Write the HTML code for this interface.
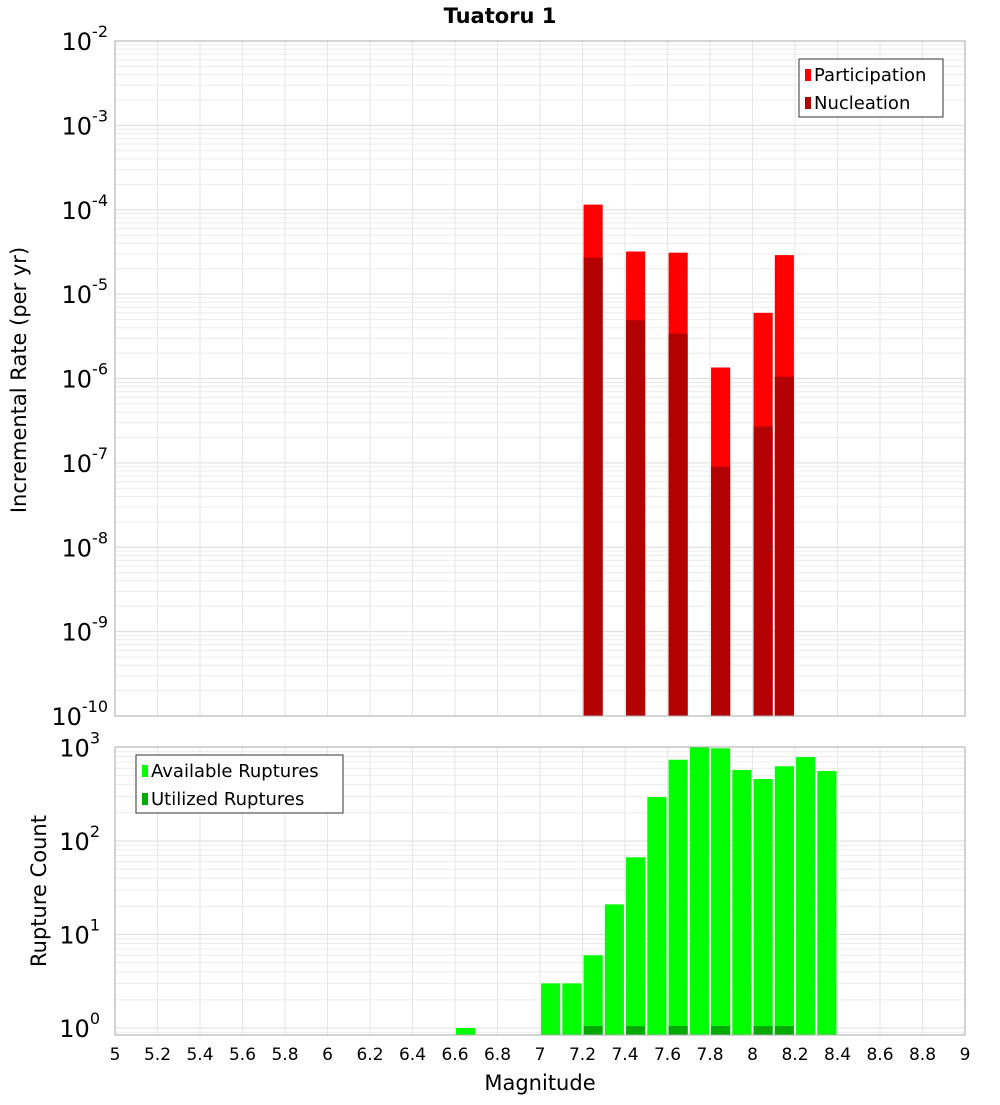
<!DOCTYPE html>
<html><head><meta charset="utf-8"><style>
body{margin:0;background:#fff;font-family:"Liberation Sans","DejaVu Sans",sans-serif}
svg text{font-family:"DejaVu Sans","Liberation Sans",sans-serif}
</style></head><body>
<svg id="c" width="1000" height="1100" xmlns="http://www.w3.org/2000/svg"></svg>
<script>
const partMags=[7.25,7.45,7.65,7.85,8.05,8.15];
const partVals=[1.15e-4,3.2e-5,3.1e-5,1.35e-6,6e-6,2.9e-5];
const nuclVals=[2.7e-5,4.9e-6,3.4e-6,9e-8,2.7e-7,1.05e-6];
const availMags=[6.65,7.05,7.15,7.25,7.35,7.45,7.55,7.65,7.75,7.85,7.95,8.05,8.15,8.25,8.35];
const availVals=[1,3,3,6,21,67,295,740,1000,980,575,460,630,790,560];
const usedMags=[7.25,7.45,7.65,7.85,8.05,8.15];
const usedVals=[1,1,1,1,1,1];
const xTicks=[5,5.2,5.4,5.6,5.8,6,6.2,6.4,6.6,6.8,7,7.2,7.4,7.6,7.8,8,8.2,8.4,8.6,8.8,9];
const xTickLabels=["5","5.2","5.4","5.6","5.8","6","6.2","6.4","6.6","6.8","7","7.2","7.4","7.6","7.8","8","8.2","8.4","8.6","8.8","9"];
const topExps=[-10,-9,-8,-7,-6,-5,-4,-3,-2];
const botExps=[0,1,2,3];

const svg=document.getElementById('c');
const NS='http://www.w3.org/2000/svg';
function mk(t,a,p){const e=document.createElementNS(NS,t);for(const k in a)e.setAttribute(k,a[k]);(p||svg).appendChild(e);return e;}
const X0=115,X1=965;
const x=m=>X0+(m-5)/4*(X1-X0);
const T0=41,T1=716;
const yT=v=>T1-(Math.log10(v)+10)/8*(T1-T0);
const B0=747,B1=1035,BD=93.5;
const yB=v=>1028-Math.log10(v)*BD;
const bw=0.09;

// grids
function grid(y0,y1,fy,emin,emax){
  for(let e=emin;e<emax;e++)for(let k=1;k<10;k++){const yy=fy(k*Math.pow(10,e));if(yy<y0-0.5||yy>y1+0.5)continue;
    const g=mk('line',{x1:X0,x2:X1,y1:yy,y2:yy,stroke:k==1?'#dcdcdc':'#ececec','stroke-width':1});
    }
  xTicks.forEach(t=>{const g=mk('line',{x1:x(t),x2:x(t),y1:y0,y2:y1,stroke:'#e6e6e6'});
    });
}
grid(T0,T1,yT,-10,-2);
grid(B0,B1,yB,-1,3);

// top bars
partMags.forEach((m,i)=>{
  const r=mk('rect',{x:x(m-bw/2),width:x(bw)-x(0),y:yT(partVals[i]),height:T1-yT(partVals[i]),fill:'#ff0000'});
  
  const n=mk('rect',{x:x(m-bw/2),width:x(bw)-x(0),y:yT(nuclVals[i]),height:T1-yT(nuclVals[i]),fill:'#b30000'});
  
});
// bottom bars
availMags.forEach((m,i)=>{
  const r=mk('rect',{x:x(m-bw/2),width:x(bw)-x(0),y:yB(availVals[i]),height:B1-yB(availVals[i]),fill:'#00ff00'});
  
});
usedMags.forEach((m,i)=>{
  const r=mk('rect',{x:x(m-bw/2),width:x(bw)-x(0),y:yB(usedVals[i])-2,height:B1-yB(usedVals[i])+2,fill:'#00aa00'});
  
});
// frames
let f=mk('rect',{x:X0,y:T0,width:X1-X0,height:T1-T0,fill:'none',stroke:'#aaa'});

f=mk('rect',{x:X0,y:B0,width:X1-X0,height:B1-B0,fill:'none',stroke:'#aaa'});


// y tick labels
topExps.forEach(e=>{const yy=yT(Math.pow(10,e));
  const t=mk('text',{x:108,y:yy+9,'text-anchor':'end','font-size':24,fill:'#000'});
  
  t.textContent='10';const s=mk('tspan',{dy:-13,'font-size':16},t);s.textContent=String(e);
});
botExps.forEach(e=>{const yy=yB(Math.pow(10,e));
  const t=mk('text',{x:100,y:yy+9,'text-anchor':'end','font-size':24,fill:'#000'});
  
  t.textContent='10';const s=mk('tspan',{dy:-13,'font-size':16},t);s.textContent=String(e);
});
// x ticks
xTicks.forEach((v,i)=>{
  const t=mk('text',{x:x(v),y:1060,'text-anchor':'middle','font-size':17,fill:'#000'});
  
  t.textContent=xTickLabels[i];
});
function txt(s,a,name){const t=mk('text',a);t.textContent=s;return t;}
txt('Tuatoru 1',{x:500,y:23,'text-anchor':'middle','font-size':21,'font-weight':'bold'},'chart-title');
txt('Magnitude',{x:540,y:1090,'text-anchor':'middle','font-size':21},'x-axis-title');
txt('Incremental Rate (per yr)',{x:26,y:380,'text-anchor':'middle','font-size':21,transform:'rotate(-90 26 380)'},'top-y-axis-title');
txt('Rupture Count',{x:46,y:891,'text-anchor':'middle','font-size':21,transform:'rotate(-90 46 891)'},'bottom-y-axis-title');

// legends
function legend(x0,y0,w,items,name){
  const g=mk('g',{});
  mk('rect',{x:x0,y:y0,width:w,height:58,fill:'#fff',stroke:'#333'},g);
  items.forEach((it,i)=>{
    const r=mk('rect',{x:x0+6,y:y0+10+i*28,width:6,height:12,fill:it[1]},g);
    const t=mk('text',{x:x0+15,y:y0+22+i*28,'font-size':18},g);t.textContent=it[0];
    
  });
}
legend(799,59,144,[['Participation','#ff0000'],['Nucleation','#b30000']],'top-legend');
legend(136,755,207,[['Available Ruptures','#00ff00'],['Utilized Ruptures','#00aa00']],'bottom-legend');
</script>
</body></html>
